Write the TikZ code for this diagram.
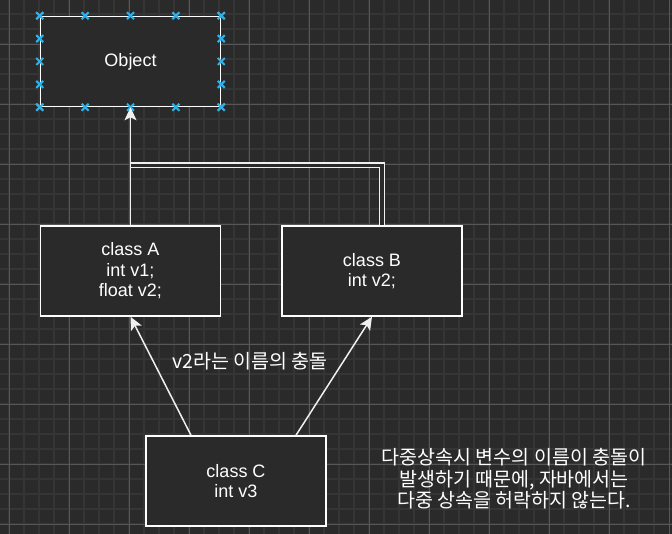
\documentclass[tikz,border=0pt]{standalone}
\usepackage{fontspec}
\setmainfont{Liberation Sans}
\newfontfamily\krfont{Noto Sans CJK KR}
\usetikzlibrary{arrows.meta,positioning,calc}

\definecolor{canvas}{HTML}{2A2A2A}
\definecolor{gridminor}{HTML}{353535}
\definecolor{gridmajor}{HTML}{575757}
\definecolor{handle}{HTML}{2DB2EC}
\definecolor{edgecol}{HTML}{F0F0F0}

\begin{document}
\begin{tikzpicture}[x=1pt,y=-1pt,
  classbox/.style={draw=white,line width=1.5pt,fill=canvas,minimum width=180pt,
    minimum height=90pt,align=center,text=white,font=\fontsize{18}{20.5}\selectfont},
  link/.style={draw=edgecol,line width=1.5pt,-{Stealth[length=13pt,width=12pt,inset=3pt]}},
  doublelink/.style={draw=edgecol,line width=1.2pt,double=canvas,double distance=3.3pt},
  handlemark/.style={draw=handle,line width=2pt},
  kortext/.style={text=white,align=center,font=\krfont\fontsize{19.5}{21.5}\selectfont}]
\useasboundingbox (0,0) rectangle (672,534);
\fill[canvas] (0,0) rectangle (672,534);
% grid
\foreach \gx in {-6,9,...,666} \draw[gridminor,line width=1.8pt] (\gx,0) -- (\gx,534);
\foreach \gy in {-1,14,...,529} \draw[gridminor,line width=1.8pt] (0,\gy) -- (672,\gy);
\foreach \gx in {9,69,...,669} \draw[gridmajor,line width=0.9pt] (\gx,0) -- (\gx,534);
\foreach \gy in {44,104,...,524} \draw[gridmajor,line width=0.9pt] (0,\gy) -- (672,\gy);

% classes
\node[classbox] (obj) at (130.5,61.5) {Object};
\node[classbox] (clsA) at (130.5,271) {class A\\int v1;\\float v2;};
\node[classbox] (clsB) at (372,271) {class B\\int v2;};
\node[classbox] (clsC) at (236,481) {class C\\int v3};

% selection handles on Object
\foreach \hpos in {0,0.25,0.5,0.75,1}
  \foreach \from/\to in {north west/north east,south west/south east,north west/south west,north east/south east} {
    \coordinate (h) at ($(obj.\from)!\hpos!(obj.\to)$);
    \draw[handlemark] ($(h)+(-3.5,-3.5)$) -- ($(h)+(3.5,3.5)$) ($(h)+(-3.5,3.5)$) -- ($(h)+(3.5,-3.5)$);
  }

% inheritance
\coordinate (join) at ($(clsA.north)+(0,-60)$);
\draw[doublelink] ([xshift=10pt]clsB.north) |- (join);
\draw[link] (clsA.north) -- (obj.south);
\draw[link] ([xshift=-45pt]clsC.north) -- (clsA.south);
\draw[link] ([xshift=60pt]clsC.north) -- (clsB.south);

% texts
\node[kortext] (clash) at (250,361) {v2라는 이름의 충돌};
\node[kortext] (note) at (514,479) {다중상속시 변수의 이름이 충돌이\\발생하기 때문에, 자바에서는\\다중 상속을 허락하지 않는다.};
\end{tikzpicture}
\end{document}
